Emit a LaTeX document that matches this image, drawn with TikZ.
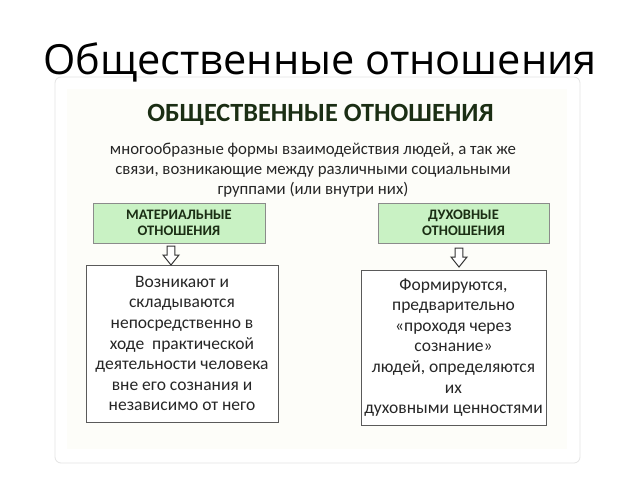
\documentclass[tikz,border=0pt]{standalone}
\usepackage{fontspec}
\setmainfont{Carlito}
\newfontfamily\titlefont{Open Sans}
\definecolor{panelborder}{HTML}{E4E4E4}
\definecolor{imgbg}{HTML}{FDFDF9}
\definecolor{greenfill}{HTML}{C9F2C4}
\definecolor{darkgreen}{HTML}{1B2E14}
\definecolor{boxline}{HTML}{5A5A5A}
\tikzset{
  greenbox/.style={draw=boxline!70, fill=greenfill, line width=0.8pt, font=\fontsize{14.5}{16.5}\selectfont\bfseries, text=darkgreen, align=center},
  textbox/.style={draw=boxline, fill=white, line width=0.8pt, font=\fontsize{17.5}{20.6}\selectfont, text=black!85, align=center},
  hollowarrow/.style={draw=black!80, fill=white, line width=1pt, line join=miter},
  pics/downarrow/.style={code={
    \draw[hollowarrow] (-3.8,0) -- (3.8,0) -- (3.8,9) -- (8,9) -- (0,19) -- (-8,9) -- (-3.8,9) -- cycle;
  }}
}
\begin{document}
\begin{tikzpicture}[x=1pt,y=-1pt]
\useasboundingbox (0,0) rectangle (640,480);
\fill[white] (0,0) rectangle (640,480);
% outer panel and embedded image
\draw[panelborder, fill=white, rounded corners=6pt, line width=0.8pt] (55,77) rectangle (580,463);
\fill[imgbg] (67,89) rectangle (567,449);
% slide title
\node[font=\titlefont\fontsize{41.5}{48}\selectfont, anchor=base] (title) at (320,74) {Общественные отношения};
% heading
\node[font=\fontsize{26.3}{32}\selectfont\bfseries, text=darkgreen] (head) at (320.5,115) {ОБЩЕСТВЕННЫЕ ОТНОШЕНИЯ};
\node[font=\fontsize{16.8}{19.7}\selectfont, align=center, text=black!85] (def) at (313,170) {многообразные формы взаимодействия людей, а так же\\связи, возникающие между различными социальными\\группами (или внутри них)};
% green boxes
\node[greenbox, minimum width=172pt, minimum height=40pt] (mat) at (179,223) {МАТЕРИАЛЬНЫЕ\\ОТНОШЕНИЯ};
\node[greenbox, minimum width=171pt, minimum height=40pt] (duh) at (463.5,223) {ДУХОВНЫЕ\\ОТНОШЕНИЯ};
% description boxes
\node[textbox, minimum width=192pt, minimum height=157pt] (matd) at (182,343.5) {Возникают и\\складываются\\непосредственно в\\ходе\ \ практической\\деятельности человека\\вне его сознания и\\независимо от него};
\node[textbox, minimum width=183pt, minimum height=155pt] (duhd) at (453.5,347.5) {Формируются,\\предварительно\\«проходя через\\сознание»\\людей, определяются\\их\\духовными ценностями};
% arrows
\coordinate (a1) at (171,246);
\coordinate (a2) at (459,248);
\pic at (a1) {downarrow};
\pic at (a2) {downarrow};
\end{tikzpicture}
\end{document}
